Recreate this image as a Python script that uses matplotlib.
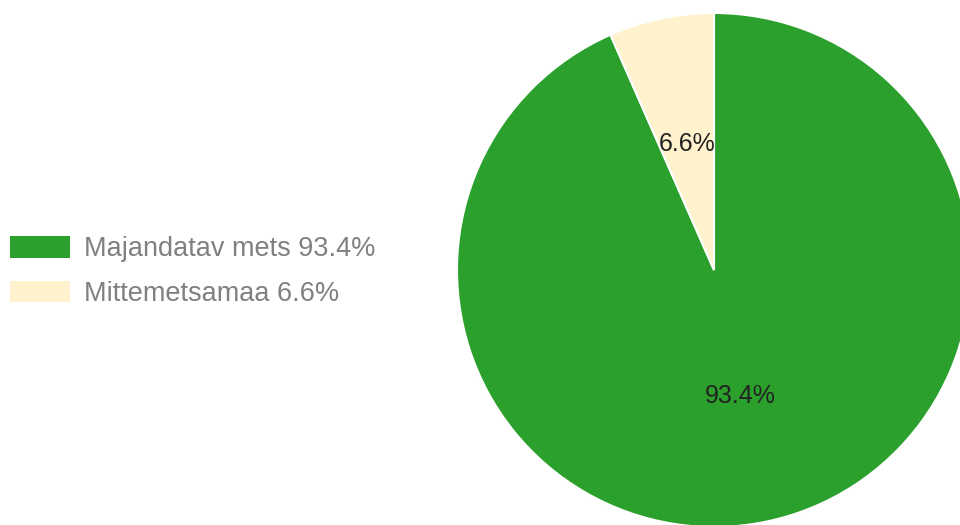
import matplotlib
matplotlib.use("Agg")
import matplotlib.pyplot as plt

labels = ["Majandatav mets", "Mittemetsamaa"]
shares = [93.4, 6.6]
colors = ["#2ca02c", "#fff2cc"]

plt.rcParams['font.family'] = ['Liberation Sans', 'DejaVu Sans']

W, H = 960, 525
fig = plt.figure(figsize=(W / 100, H / 100), dpi=100)

# pie centre / radius in pixels
cx, cy, r = 714, 270, 257
ax = fig.add_axes([(cx - r) / W, (H - cy - r) / H, 2 * r / W, 2 * r / H])

wedges, texts, autotexts = ax.pie(
    shares, colors=colors, startangle=90, counterclock=False,
    autopct=lambda p: f"{p:.1f}%", pctdistance=0.5,
    wedgeprops=dict(edgecolor="white", linewidth=1.5),
    textprops=dict(fontsize=18, color="#222222"))
ax.set_xlim(-1, 1)
ax.set_ylim(-1, 1)
ax.set_aspect("equal")
ax.axis("off")

leg_labels = [f"{l} {v:.1f}%" for l, v in zip(labels, shares)]
leg = fig.legend(wedges, leg_labels, loc="upper left",
                 bbox_to_anchor=(10 / W, 1 - 236 / H),
                 frameon=False, fontsize=19.5, labelcolor="#808080",
                 handlelength=2.2, handleheight=0.85, handletextpad=0.55,
                 labelspacing=0.69, borderpad=0, borderaxespad=0)
for h in leg.legend_handles:
    h.set_edgecolor("none")

fig.savefig("out.png", dpi=100)
